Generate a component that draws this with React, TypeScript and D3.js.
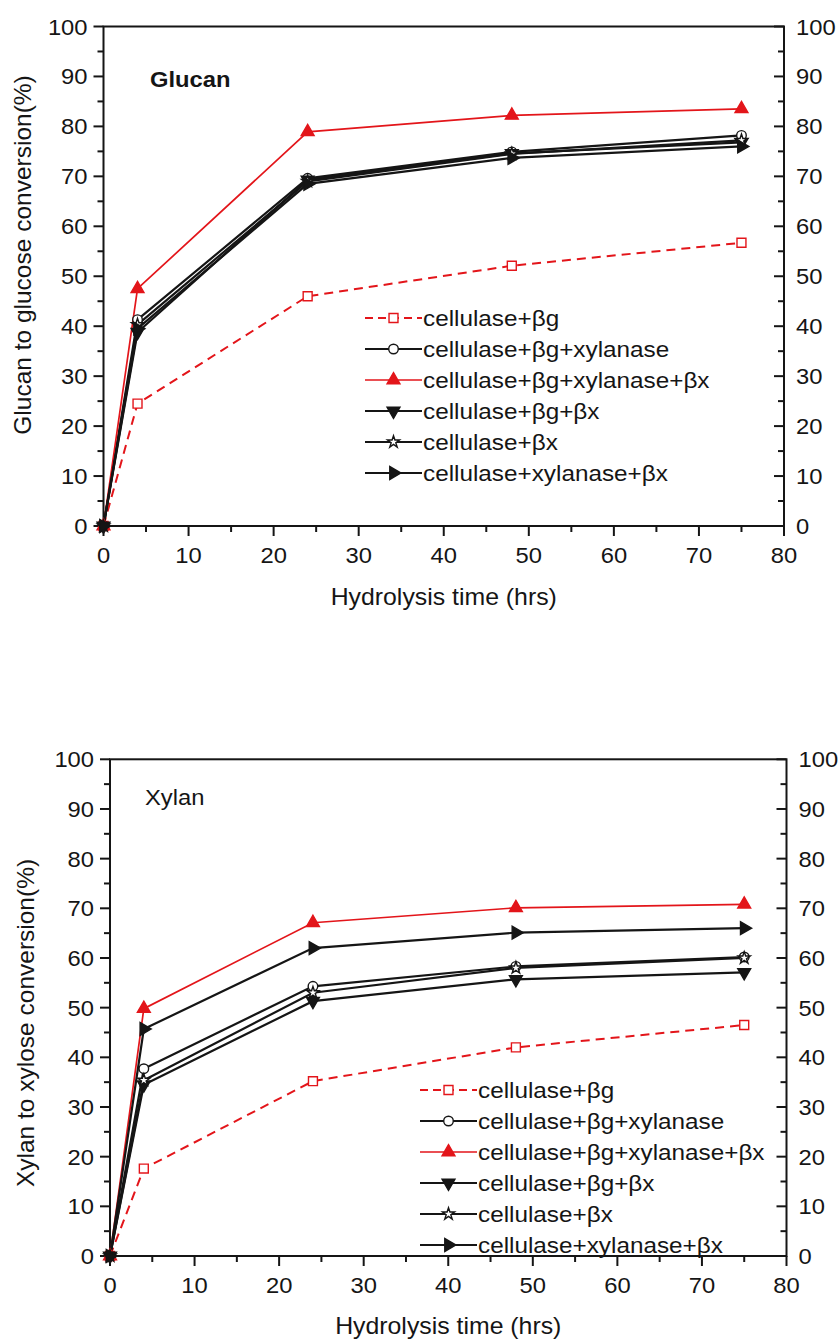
import React from 'react';
import * as d3 from 'd3';

const times = [0, 4, 24, 48, 75];

const labels = [
  'cellulase+βg',
  'cellulase+βg+xylanase',
  'cellulase+βg+xylanase+βx',
  'cellulase+βg+βx',
  'cellulase+βx',
  'cellulase+xylanase+βx',
];

// glucan to glucose conversion (%)
const glucanBg = [0, 24.5, 46, 52.1, 56.7];
const glucanBgXyl = [0, 41.3, 69.6, 74.9, 78.2];
const glucanBgXylBx = [0, 47.5, 78.9, 82.2, 83.5];
const glucanBgBx = [0, 38.8, 69.3, 74.6, 76.8];
const glucanBx = [0, 40.3, 69.0, 74.5, 77.2];
const glucanXylBx = [0, 39.5, 68.5, 73.7, 76.0];

// xylan to xylose conversion (%)
const xylanBg = [0, 17.6, 35.2, 42.0, 46.5];
const xylanBgXyl = [0, 37.7, 54.3, 58.3, 60.2];
const xylanBgXylBx = [0, 49.8, 67.1, 70.1, 70.8];
const xylanBgBx = [0, 34.5, 51.3, 55.7, 57.1];
const xylanBx = [0, 35.4, 53.0, 58.0, 60.0];
const xylanXylBx = [0, 45.7, 62.0, 65.1, 66.0];

const yTicks = d3.range(0, 101, 10);
const xTicks = d3.range(0, 81, 10);

const RED = '#e3151a';
const INK = '#151515';
const FONT = '"Liberation Sans", Arial, sans-serif';
const SX = 1.08; // the source figure is slightly stretched sideways

// marker style per series, in legend order
const styles = [
  { color: RED, dash: '9,6', sym: d3.symbolSquare, size: 80, rot: 0, fill: '#fff', width: 2 },
  { color: INK, dash: null, sym: d3.symbolCircle, size: 72, rot: 0, fill: '#fff', width: 2.2 },
  { color: RED, dash: null, sym: d3.symbolTriangle, size: 72, rot: 0, fill: RED, width: 1.7 },
  { color: INK, dash: null, sym: d3.symbolTriangle, size: 72, rot: 180, fill: INK, width: 2.2 },
  { color: INK, dash: null, sym: d3.symbolStar, size: 45, rot: 0, fill: '#fff', width: 2.2 },
  { color: INK, dash: null, sym: d3.symbolTriangle, size: 72, rot: 90, fill: INK, width: 2.2 },
];

const panels = [
  {
    series: [glucanBg, glucanBgXyl, glucanBgXylBx, glucanBgBx, glucanBx, glucanXylBx],
    x0: 103.5, x1: 784, y0: 526, y1: 26.5,
    yTitle: 'Glucan to glucose conversion(%)', yTitleX: 23, yTitleY: 255,
    xTitleY: 605, name: 'Glucan', bold: true, nameX: 150, nameY: 87,
    legX: 365, legY: 318, legGap: 31,
  },
  {
    series: [xylanBg, xylanBgXyl, xylanBgXylBx, xylanBgBx, xylanBx, xylanXylBx],
    x0: 110, x1: 786.5, y0: 1256, y1: 759.3,
    yTitle: 'Xylan to xylose conversion(%)', yTitleX: 26, yTitleY: 1023,
    xTitleY: 1334, name: 'Xylan', bold: false, nameX: 145, nameY: 805,
    legX: 420, legY: 1090, legGap: 31,
  },
];

const Txt = ({ x, y, size, anchor = 'start', weight = 'normal', children }: any) => (
  <text
    transform={`translate(${x},${y}) scale(${SX},1)`}
    fontSize={size}
    fontFamily={FONT}
    fontWeight={weight}
    textAnchor={anchor}
    fill={INK}
  >
    {children}
  </text>
);

const Marker = ({ x, y, st }: any) => (
  <path
    d={d3.symbol(st.sym, st.size)() as string}
    transform={`translate(${x},${y}) rotate(${st.rot})`}
    fill={st.fill}
    stroke={st.color}
    strokeWidth={1.4}
  />
);

const Panel = ({ p }: any) => {
  const x = d3.scaleLinear().domain([0, 80]).range([p.x0, p.x1]);
  const y = d3.scaleLinear().domain([0, 100]).range([p.y0, p.y1]);
  const line = d3.line<number>().x((_, i) => x(times[i])).y(d => y(d));
  const minorY = d3.range(5, 100, 10);
  const minorX = d3.range(5, 80, 10);
  const legW = 57;

  return (
    <g>
      {/* frame */}
      <rect x={x(0)} y={y(100)} width={x(80) - x(0)} height={y(0) - y(100)} fill="none" stroke={INK} strokeWidth={2} />

      {/* left axis: outward ticks */}
      {yTicks.map(t => (
        <g key={'l' + t}>
          <line x1={x(0) - 10} x2={x(0)} y1={y(t)} y2={y(t)} stroke={INK} strokeWidth={2} />
          <Txt x={x(0) - 16} y={y(t) + 8} size={22} anchor="end">{t}</Txt>
        </g>
      ))}
      {minorY.map(t => (
        <line key={'lm' + t} x1={x(0) - 6} x2={x(0)} y1={y(t)} y2={y(t)} stroke={INK} strokeWidth={2} />
      ))}

      {/* right axis: inward ticks */}
      {yTicks.map(t => (
        <g key={'r' + t}>
          <line x1={x(80) - 10} x2={x(80)} y1={y(t)} y2={y(t)} stroke={INK} strokeWidth={2} />
          <Txt x={x(80) + 12} y={y(t) + 8} size={22}>{t}</Txt>
        </g>
      ))}
      {minorY.map(t => (
        <line key={'rm' + t} x1={x(80) - 6} x2={x(80)} y1={y(t)} y2={y(t)} stroke={INK} strokeWidth={2} />
      ))}

      {/* bottom axis */}
      {xTicks.map(t => (
        <g key={'b' + t}>
          <line x1={x(t)} x2={x(t)} y1={y(0)} y2={y(0) + 10} stroke={INK} strokeWidth={2} />
          <Txt x={x(t)} y={y(0) + 37} size={22} anchor="middle">{t}</Txt>
        </g>
      ))}
      {minorX.map(t => (
        <line key={'bm' + t} x1={x(t)} x2={x(t)} y1={y(0)} y2={y(0) + 6} stroke={INK} strokeWidth={2} />
      ))}

      <Txt x={(p.x0 + p.x1) / 2} y={p.xTitleY} size={23} anchor="middle">Hydrolysis time (hrs)</Txt>
      <text
        transform={`translate(${p.yTitleX + 8},${p.yTitleY}) rotate(-90)`}
        fontSize={24.5}
        fontFamily={FONT}
        textAnchor="middle"
        fill={INK}
      >
        {p.yTitle}
      </text>
      <Txt x={p.nameX} y={p.nameY} size={22} weight={p.bold ? 'bold' : 'normal'}>{p.name}</Txt>

      {/* series */}
      {p.series.map((s: number[], i: number) => (
        <path key={'s' + i} d={line(s) as string} fill="none" stroke={styles[i].color}
          strokeWidth={styles[i].width} strokeDasharray={styles[i].dash || undefined} />
      ))}
      {p.series.map((s: number[], i: number) => (
        <g key={'m' + i}>
          {s.map((v, j) => <Marker key={j} x={x(times[j])} y={y(v)} st={styles[i]} />)}
        </g>
      ))}

      {/* legend */}
      {labels.map((lab, i) => {
        const ly = p.legY + i * p.legGap;
        const st = styles[i];
        return (
          <g key={'g' + i}>
            <line x1={p.legX} x2={p.legX + legW} y1={ly} y2={ly} stroke={st.color}
              strokeWidth={st.width} strokeDasharray={st.dash ? '8,5' : undefined} />
            <Marker x={p.legX + legW / 2} y={ly} st={st} />
            <Txt x={p.legX + legW + 1} y={ly + 8} size={22.5}>{lab}</Txt>
          </g>
        );
      })}
    </g>
  );
};

const App = () => (
  <svg width={839} height={1339} style={{ position: 'absolute', left: 0, top: 0, background: '#fff' }}>
    <rect width={839} height={1339} fill="#fff" />
    {panels.map((p, i) => <Panel key={i} p={p} />)}
  </svg>
);

export default App;
